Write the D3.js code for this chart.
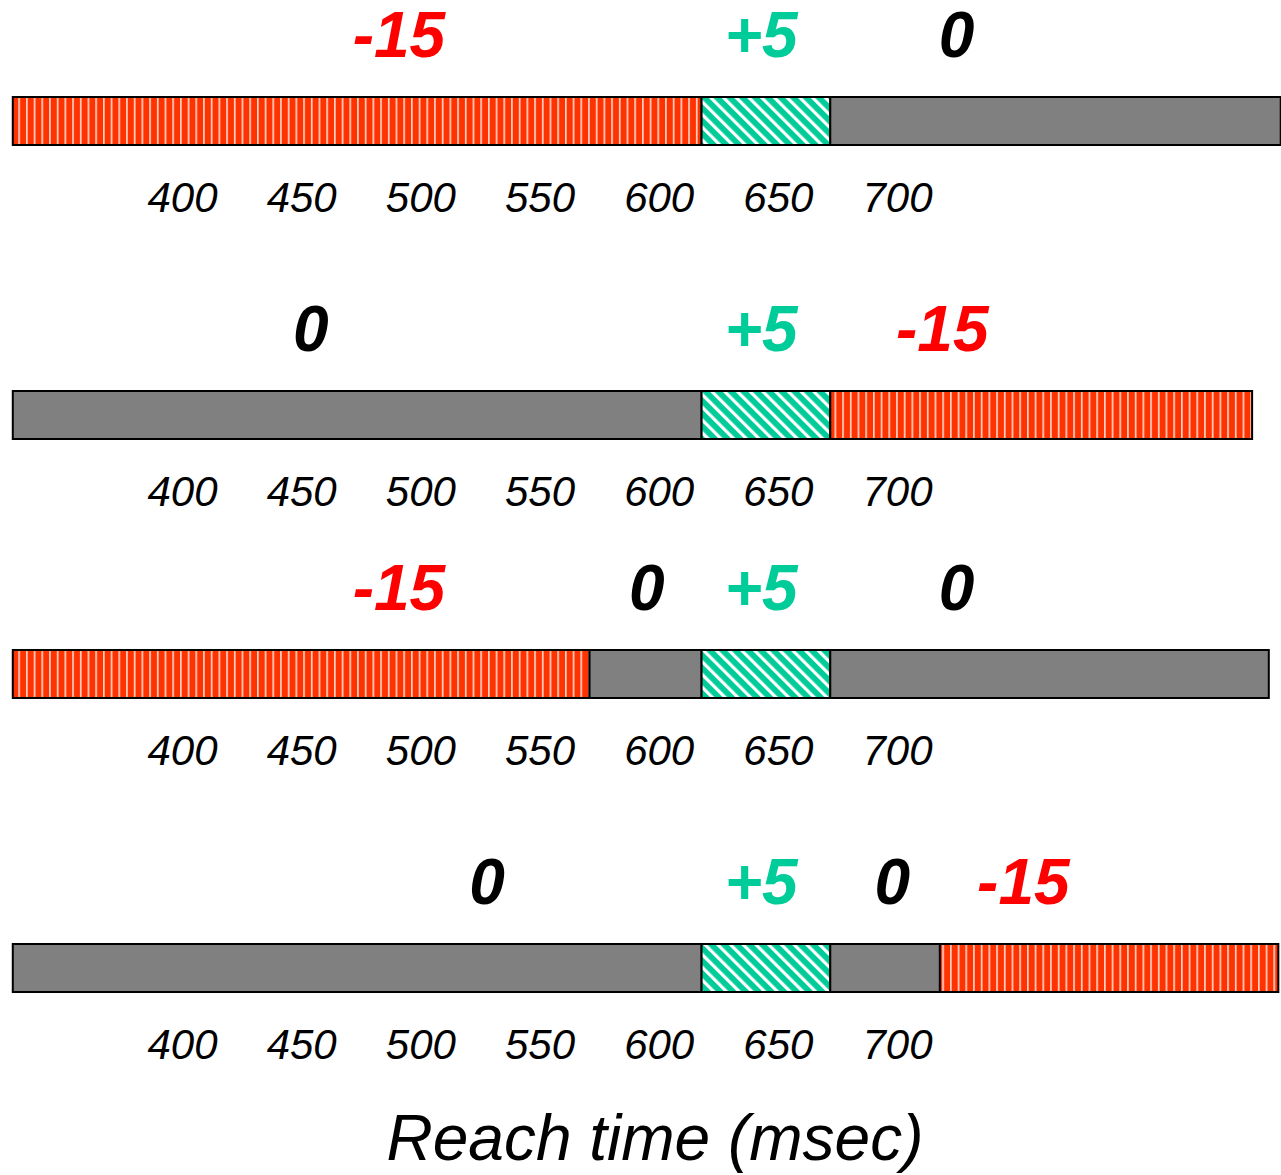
<!DOCTYPE html>
<html>
<head>
<meta charset="utf-8">
<script src="https://cdn.jsdelivr.net/npm/d3@7"></script>
<style>
  html, body { margin: 0; padding: 0; background: #ffffff; }
  svg { display: block; }
</style>
</head>
<body>
<div id="chart"></div>
<script>
// ---- data ----
const tickValues = [400, 450, 500, 550, 600, 650, 700];
const axisTitle = "Reach time (msec)";

// per-row segment kinds (neg = -15 penalty, pos = +5 reward, zero = 0)
const row1Kinds = ["neg", "pos", "zero"];
const row2Kinds = ["zero", "pos", "neg"];
const row3Kinds = ["neg", "zero", "pos", "zero"];
const row4Kinds = ["zero", "pos", "zero", "neg"];

// per-row segment boundaries (msec)
const row1Bounds = [329, 618, 672, 861];
const row2Bounds = [329, 618, 672, 849];
const row3Bounds = [329, 571, 618, 672, 856];
const row4Bounds = [329, 618, 672, 718, 860];

// per-row payoff labels and their positions on the time axis (msec)
const row1Labels = ["-15", "+5", "0"];
const row2Labels = ["0", "+5", "-15"];
const row3Labels = ["-15", "0", "+5", "0"];
const row4Labels = ["0", "+5", "0", "-15"];
const row1LabelTimes = [491, 643, 725];
const row2LabelTimes = [454, 643, 719];
const row3LabelTimes = [491, 595, 643, 725];
const row4LabelTimes = [528, 643, 698, 753];

// ---- layout ----
const W = 1281, H = 1175;
const rowTops = [97, 391, 650, 944];
const barH = 48;

const rows = [
  { kinds: row1Kinds, bounds: row1Bounds, labels: row1Labels, lt: row1LabelTimes },
  { kinds: row2Kinds, bounds: row2Bounds, labels: row2Labels, lt: row2LabelTimes },
  { kinds: row3Kinds, bounds: row3Bounds, labels: row3Labels, lt: row3LabelTimes },
  { kinds: row4Kinds, bounds: row4Bounds, labels: row4Labels, lt: row4LabelTimes }
];

const x = d3.scaleLinear().domain([400, 700]).range([182, 897]);

const fillFor = { neg: "url(#redStripes)", pos: "url(#greenStripes)", zero: "#808080" };
const labelColor = { "-15": "#FF0000", "+5": "#00CC99", "0": "#000000" };

const svg = d3.select("#chart").append("svg")
  .attr("width", W).attr("height", H)
  .attr("viewBox", `0 0 ${W} ${H}`);

const defs = svg.append("defs");
const red = defs.append("pattern")
  .attr("id", "redStripes").attr("patternUnits", "userSpaceOnUse")
  .attr("width", 7.7).attr("height", 10);
red.append("rect").attr("width", 7.7).attr("height", 10).attr("fill", "#FF3300");
red.append("rect").attr("x", 3).attr("width", 1.5).attr("height", 10).attr("fill", "#FFE6DE");

const green = defs.append("pattern")
  .attr("id", "greenStripes").attr("patternUnits", "userSpaceOnUse")
  .attr("width", 9).attr("height", 10)
  .attr("patternTransform", "rotate(-45)");
green.append("rect").attr("width", 9).attr("height", 10).attr("fill", "#00CC99");
green.append("rect").attr("x", 0).attr("width", 3.2).attr("height", 10).attr("fill", "#FFFFFF");

const font = "'Liberation Sans', Arial, sans-serif";

rows.forEach((row, i) => {
  const top = rowTops[i];
  const g = svg.append("g").attr("class", "row");

  const segs = row.kinds.map((k, j) => ({ kind: k, x0: row.bounds[j], x1: row.bounds[j + 1] }));
  g.selectAll("rect.seg").data(segs).join("rect")
    .attr("class", "seg")
    .attr("x", d => x(d.x0))
    .attr("y", top)
    .attr("width", d => x(d.x1) - x(d.x0))
    .attr("height", barH)
    .attr("fill", d => fillFor[d.kind])
    .attr("stroke", "#000")
    .attr("stroke-width", 2);

  // payoff labels
  g.selectAll("text.payoff").data(row.labels.map((t, j) => ({ t, v: row.lt[j] }))).join("text")
    .attr("class", "payoff")
    .attr("x", d => x(d.v))
    .attr("y", top - 40)
    .attr("text-anchor", "middle")
    .attr("font-family", font)
    .attr("font-size", 64)
    .attr("font-weight", "bold")
    .attr("font-style", "italic")
    .attr("fill", d => labelColor[d.t])
    .text(d => d.t);

  // tick labels via d3 axis
  const axis = d3.axisBottom(x).tickValues(tickValues).tickSize(0).tickPadding(0);
  const ag = g.append("g").attr("transform", `translate(0,${top + 115})`).call(axis);
  ag.select(".domain").remove();
  ag.selectAll("text")
    .attr("dy", 0).attr("y", 0)
    .attr("font-family", font)
    .attr("font-size", 42)
    .attr("font-style", "italic")
    .attr("fill", "#000");
});

svg.append("text")
  .attr("x", 655).attr("y", 1160)
  .attr("text-anchor", "middle")
  .attr("font-family", font)
  .attr("font-size", 64)
  .attr("font-style", "italic")
  .attr("fill", "#000")
  .text(axisTitle);
</script>
</body>
</html>
